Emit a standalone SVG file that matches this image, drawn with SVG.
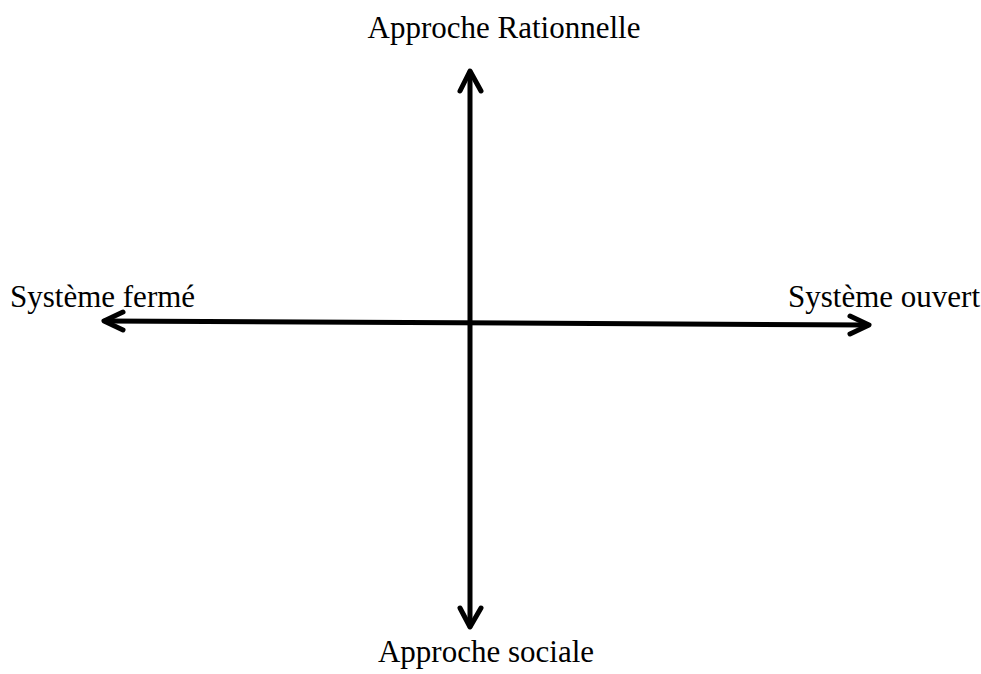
<svg xmlns="http://www.w3.org/2000/svg" width="981" height="674" viewBox="0 0 981 674">
<style>
.ax{stroke:#000;stroke-width:5;fill:none;stroke-linecap:round;stroke-linejoin:round}
.lb{font-family:"Liberation Serif","Times New Roman",serif;font-size:31px;fill:#000}
</style>
<rect width="981" height="674" fill="#fff"/>
<g id="connectors">
<line class="ax" x1="470" y1="72" x2="470" y2="626"/>
<polyline class="ax" points="460,91 470,71 481,91"/>
<polyline class="ax" points="460,608 470,627 481,608"/>
<line class="ax" x1="105" y1="321" x2="868" y2="325"/>
<polyline class="ax" points="123,312 104,321 123,330"/>
<polyline class="ax" points="850,316 869,325 850,334"/>
</g>
<g id="top"><text class="lb" x="504" y="38" text-anchor="middle">Approche Rationnelle</text></g>
<g id="bottom"><text class="lb" x="486" y="662" text-anchor="middle">Approche sociale</text></g>
<g id="left"><text class="lb" x="10" y="307">Système fermé</text></g>
<g id="right"><text class="lb" x="788" y="307">Système ouvert</text></g>
</svg>
